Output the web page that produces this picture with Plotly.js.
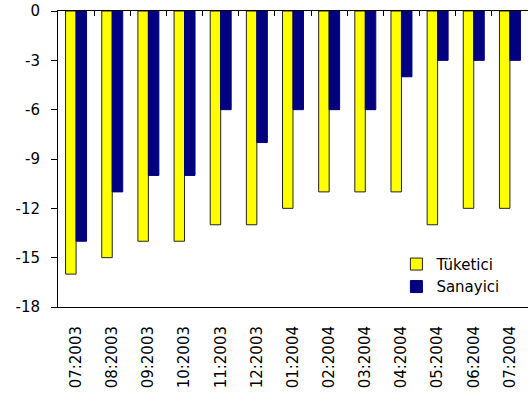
<!DOCTYPE html>
<html>
<head>
<meta charset="utf-8">
<script src="https://cdn.plot.ly/plotly-3.0.1.min.js"></script>
<style>
  html, body { margin: 0; padding: 0; background: #fff; }
  #chart { width: 531px; height: 401px; }
</style>
</head>
<body>
<div id="chart"></div>
<script>
var months = ['07:2003', '08:2003', '09:2003', '10:2003', '11:2003', '12:2003',
              '01:2004', '02:2004', '03:2004', '04:2004', '05:2004', '06:2004', '07:2004'];
var tuketici = [-16, -15, -14, -14, -13, -13, -12, -11, -11, -11, -13, -12, -12];
var sanayici = [-14, -11, -10, -10, -6, -8, -6, -6, -6, -4, -3, -3, -3];
var yTicks = [0, -3, -6, -9, -12, -15, -18];

var trace1 = {
    x: months,
    y: tuketici,
    type: 'bar',
    name: 'Tüketici',
    marker: {
        color: '#FFFF00',
        line: {color: '#222222', width: 1}
    }
};

var trace2 = {
    x: months,
    y: sanayici,
    type: 'bar',
    name: 'Sanayici',
    marker: {
        color: '#000080',
        line: {color: '#000080', width: 1}
    }
};

// invisible trace so the zero-line axis on top gets drawn
var idx = months.map(function (m, i) { return i; });
var trace3 = {
    x: idx,
    y: tuketici,
    xaxis: 'x2',
    type: 'scatter',
    mode: 'none',
    showlegend: false,
    hoverinfo: 'skip'
};

var data = [trace1, trace2, trace3];

// tick marks on the zero line sit between the categories
var boundaries = months.slice(1).map(function (m, i) { return i + 0.5; });

var layout = {
    width: 531,
    height: 401,
    margin: {l: 58, r: 3, t: 11, b: 94, pad: 0},
    paper_bgcolor: '#ffffff',
    plot_bgcolor: '#ffffff',
    font: {family: 'DejaVu Sans', size: 15, color: '#000000'},
    barmode: 'group',
    bargap: 0.42,
    bargroupgap: 0,
    showlegend: true,
    legend: {
        x: 0.72, y: 0.2,
        xanchor: 'left', yanchor: 'top',
        bgcolor: 'rgba(0,0,0,0)',
        font: {family: 'DejaVu Sans', size: 15, color: '#000000'},
        itemwidth: 30,
        tracegroupgap: 0
    },
    xaxis: {
        type: 'category',
        range: [-0.5, 12.5],
        tickangle: -90,
        ticks: '',
        showline: true,
        linecolor: '#000000',
        linewidth: 1,
        showgrid: false,
        zeroline: false,
        ticklabelstandoff: 12,
        tickfont: {size: 15}
    },
    xaxis2: {
        overlaying: 'x',
        side: 'top',
        anchor: 'y',
        type: 'linear',
        range: [-0.5, 12.5],
        tickvals: boundaries,
        ticks: 'inside',
        ticklen: 5,
        tickcolor: '#000000',
        showticklabels: false,
        showline: true,
        linecolor: '#000000',
        linewidth: 1,
        showgrid: false,
        zeroline: false
    },
    yaxis: {
        range: [-18, 0],
        tickvals: yTicks,
        ticktext: yTicks.map(String),
        ticks: 'outside',
        ticklen: 6,
        tickcolor: '#000000',
        showline: true,
        linecolor: '#000000',
        linewidth: 1,
        showgrid: false,
        zeroline: false,
        ticklabelstandoff: 8
    }
};

Plotly.newPlot('chart', data, layout, {displayModeBar: false});
</script>
</body>
</html>
